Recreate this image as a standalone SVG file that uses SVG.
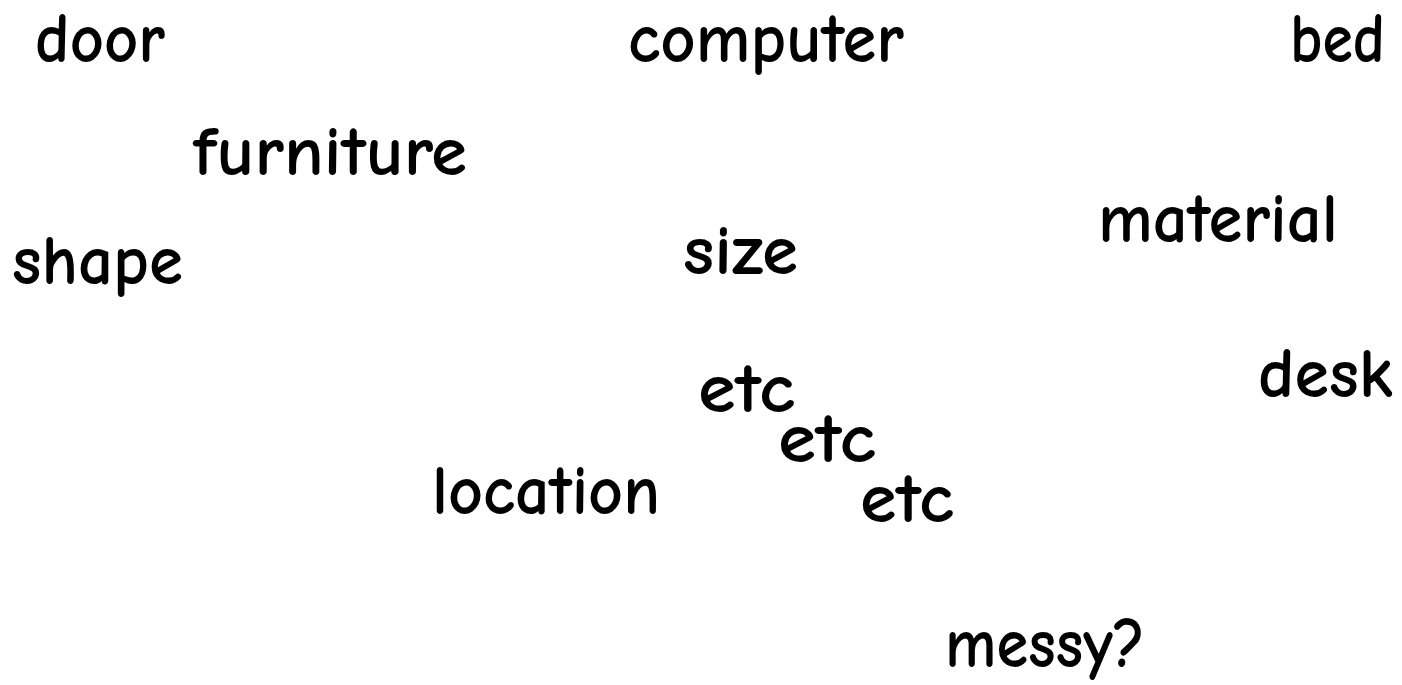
<svg xmlns="http://www.w3.org/2000/svg" width="1402" height="685" viewBox="0 0 1402 685">
  <style>
    .w { font-family: "Comic Sans MS", "Comic Neue", "Open Sans", "Liberation Sans", sans-serif; font-size: 71px; font-weight: bold; fill: #000; }
  </style>
  <rect width="1402" height="685" fill="#fff"/>
  <g id="words">
    <g id="door"><text class="w" x="35" y="62" textLength="130" lengthAdjust="spacingAndGlyphs">door</text></g>
    <g id="computer"><text class="w" x="628" y="62" textLength="276" lengthAdjust="spacingAndGlyphs">computer</text></g>
    <g id="bed"><text class="w" x="1290" y="62" textLength="95" lengthAdjust="spacingAndGlyphs">bed</text></g>
    <g id="furniture"><text class="w" x="193" y="175" textLength="274" lengthAdjust="spacingAndGlyphs">furniture</text></g>
    <g id="material"><text class="w" x="1098" y="242" textLength="240" lengthAdjust="spacingAndGlyphs">material</text></g>
    <g id="shape"><text class="w" x="12" y="284" textLength="171" lengthAdjust="spacingAndGlyphs">shape</text></g>
    <g id="size"><text class="w" x="683" y="274" textLength="115" lengthAdjust="spacingAndGlyphs">size</text></g>
    <g id="desk"><text class="w" x="1258" y="397" textLength="135" lengthAdjust="spacingAndGlyphs">desk</text></g>
    <g id="etc1"><text class="w" x="698" y="412" textLength="97" lengthAdjust="spacingAndGlyphs">etc</text></g>
    <g id="etc2"><text class="w" x="778" y="462" textLength="98" lengthAdjust="spacingAndGlyphs">etc</text></g>
    <g id="location"><text class="w" x="432" y="514" textLength="228" lengthAdjust="spacingAndGlyphs">location</text></g>
    <g id="etc3"><text class="w" x="860" y="522" textLength="94" lengthAdjust="spacingAndGlyphs">etc</text></g>
    <g id="messy"><text class="w" x="945" y="667" textLength="200" lengthAdjust="spacingAndGlyphs">messy?</text></g>
  </g>
  <g id="connectors"></g>
</svg>
